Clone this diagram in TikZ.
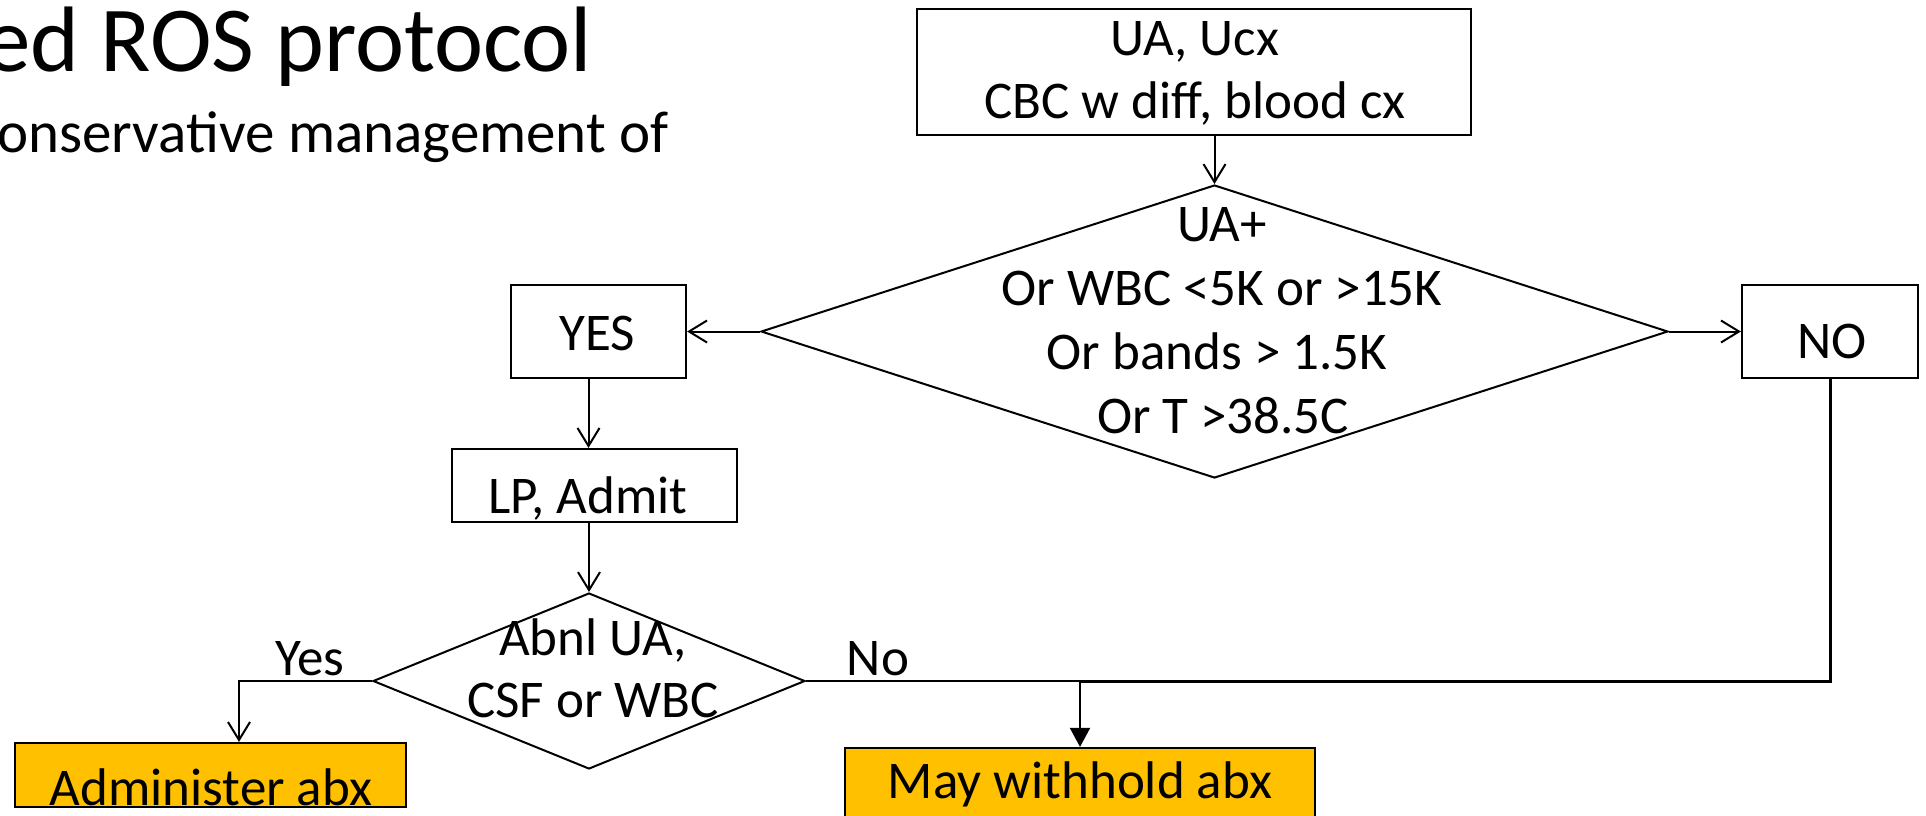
\documentclass[tikz,border=0pt]{standalone}
\usepackage{fontspec}
\setmainfont{Carlito}
\usetikzlibrary{shapes.geometric,arrows.meta,calc}
\definecolor{gold}{HTML}{FFC000}
\begin{document}
\begin{tikzpicture}[x=1pt,y=-1pt,
  box/.style={draw, line width=2.2pt, inner sep=0pt},
  goldbox/.style={box, fill=gold},
  decision/.style={diamond, draw, line width=2pt, inner sep=0pt},
  txt/.style={anchor=base, inner sep=0pt, font=\fontsize{53}{64}\selectfont},
  flow/.style={line width=2pt},
  arr/.style={flow, -{Straight Barb[length=18pt,width=22pt]}},
  farr/.style={flow, -{Triangle[length=19pt,width=20pt]}},
  heavy/.style={line width=3pt}]
\useasboundingbox (0,0) rectangle (1926,815);
\clip (0,0) rectangle (1926,815);

% slide heading
\node[anchor=base west, inner sep=0pt, font=\fontsize{93}{110}\selectfont] (title) at (-16,71) {ed ROS protocol};
\node[anchor=base west, inner sep=0pt, font=\fontsize{59}{70}\selectfont] (subtitle) at (-3,152) {onservative management of};

% boxes and decisions
\node[box, minimum width=554pt, minimum height=126pt] (tests) at (1194,72) {};
\node[decision, minimum width=907pt, minimum height=293pt] (crit) at (1214.5,331.5) {};
\node[box, minimum width=175pt, minimum height=93pt] (yes) at (598.5,331.5) {};
\node[box, minimum width=176pt, minimum height=93pt] (no) at (1830,331.5) {};
\node[box, minimum width=285pt, minimum height=73pt] (lp) at (594.5,485.5) {};
\node[decision, minimum width=432pt, minimum height=176pt] (abnl) at (589,681) {};
\node[goldbox, minimum width=391pt, minimum height=64pt] (admin) at (210.5,775) {};
\node[goldbox, minimum width=470pt, minimum height=100pt] (may) at (1080,798) {};

% texts
\node[txt] (t1) at (1195,55) {UA, Ucx};
\node[txt] (t2) at (1195,118) {CBC w diff, blood cx};
\node[txt] (c1) at (1222,241) {UA+};
\node[txt] (c2) at (1222,305) {Or WBC <5K or >15K};
\node[txt] (c3) at (1217,369) {Or bands > 1.5K};
\node[txt] (c4) at (1223,433) {Or T >38.5C};
\node[txt] (yt) at (597,350) {YES};
\node[txt] (nt) at (1832,358) {NO};
\node[txt] (lt) at (588,513) {LP, Admit};
\node[txt] (a1) at (593,655) {Abnl UA,};
\node[txt] (a2) at (593,717) {CSF or WBC};
\node[txt] (adt) at (211,805) {Administer abx};
\node[txt] (mt) at (1080,798) {May withhold abx};
\node[txt] (yeslbl) at (310,675) {Yes};
\node[txt] (nolbl) at (878,675) {No};

% connectors
\coordinate (tdrop) at (crit.north |- tests.south);
\draw[arr] (tdrop) -- (crit.north);
\draw[arr] (crit.west) -- (yes.east);
\draw[arr] (crit.east) -- (no.west);
\coordinate (ydrop) at ($(yes.south)+(-10,0)$);
\draw[arr] (ydrop) -- (ydrop |- lp.north);
\coordinate (ldrop) at (abnl.north |- lp.south);
\draw[arr] (ldrop) -- (abnl.north);
\coordinate (admtop) at ($(admin.north)+(28.5,0)$);
\draw[arr] (abnl.west) -| (admtop);
\coordinate (join) at (may.north |- abnl.east);
\draw[flow] (abnl.east) -- (join);
\draw[heavy] (no.south) |- (join);
\draw[farr] (join) -- (may.north);
\end{tikzpicture}
\end{document}
